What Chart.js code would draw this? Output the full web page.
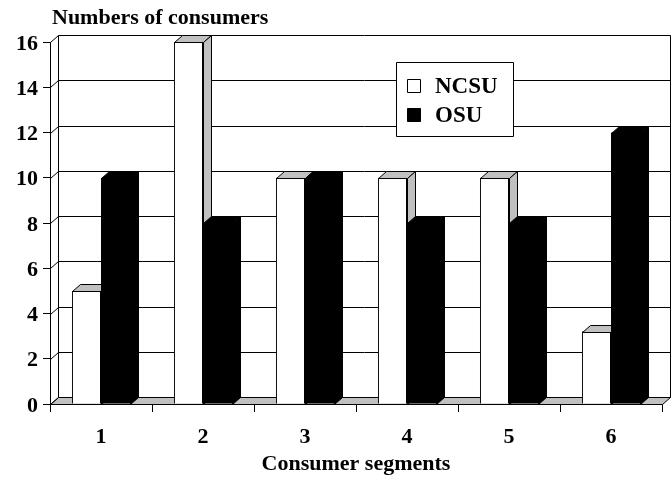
<!DOCTYPE html>
<html>
<head>
<meta charset="utf-8">
<script src="https://cdn.jsdelivr.net/npm/chart.js@4.4.1/dist/chart.umd.min.js"></script>
<style>
  html, body { margin: 0; padding: 0; background: #fff; }
  canvas { display: block; }
</style>
</head>
<body>
<canvas id="chart" width="671" height="478"></canvas>
<script>
// Consumer segment counts per university
const segments = ['1', '2', '3', '4', '5', '6'];
const ncsuCounts = [5, 16, 10, 10, 10, 3.2];
const osuCounts = [10, 8, 10, 8, 8, 12];
const yTickValues = [0, 2, 4, 6, 8, 10, 12, 14, 16];
const yAxisTitle = 'Numbers of consumers';
const xAxisTitle = 'Consumer segments';

const SERIF = "'Liberation Serif', 'Times New Roman', serif";
const DEPTH_X = 8;   // horizontal depth offset of the 3D box
const DEPTH_Y = 7;   // vertical depth offset of the 3D box
const crisp = v => Math.round(v) + 0.5;

function poly(ctx, pts, fill, stroke) {
  ctx.beginPath();
  ctx.moveTo(pts[0][0], pts[0][1]);
  for (let i = 1; i < pts.length; i++) ctx.lineTo(pts[i][0], pts[i][1]);
  ctx.closePath();
  if (fill) { ctx.fillStyle = fill; ctx.fill(); }
  if (stroke) { ctx.strokeStyle = stroke; ctx.stroke(); }
}

// White page background
const background = {
  id: 'background',
  beforeDraw(chart) {
    const { ctx, width, height } = chart;
    ctx.save();
    ctx.fillStyle = '#fff';
    ctx.fillRect(0, 0, width, height);
    ctx.restore();
  }
};

// Floor, side wall and back-wall gridlines, plus bar tops and sides
const depthBox = {
  id: 'depthBox',
  beforeDatasetsDraw(chart) {
    const { ctx, chartArea: a, scales: { y } } = chart;
    ctx.save();
    ctx.lineWidth = 1;
    const L = crisp(a.left), R = crisp(a.right), B = crisp(a.bottom), T = crisp(a.top);
    // floor
    poly(ctx, [[L, B], [R, B], [R + DEPTH_X, B - DEPTH_Y], [L + DEPTH_X, B - DEPTH_Y]], '#c0c0c0', '#000');
    // gridlines on the side wall and back wall
    ctx.strokeStyle = '#000';
    for (const t of y.ticks) {
      const py = crisp(y.getPixelForValue(t.value));
      ctx.beginPath();
      ctx.moveTo(L, py);
      ctx.lineTo(L + DEPTH_X, py - DEPTH_Y);
      ctx.lineTo(R + DEPTH_X, py - DEPTH_Y);
      ctx.stroke();
    }
    // back wall edges
    ctx.beginPath();
    ctx.moveTo(L + DEPTH_X, T - DEPTH_Y);
    ctx.lineTo(L + DEPTH_X, B - DEPTH_Y);
    ctx.moveTo(R + DEPTH_X, T - DEPTH_Y);
    ctx.lineTo(R + DEPTH_X, B - DEPTH_Y);
    ctx.stroke();
    ctx.restore();
  },
  // Repaint each cluster left to right so every bar's side face sits behind the next bar
  afterDatasetsDraw(chart) {
    const { ctx, chartArea } = chart;
    const metas = chart.data.datasets.map((_, i) => chart.getDatasetMeta(i));
    ctx.save();
    ctx.lineWidth = 1;
    for (let c = 0; c < chart.data.labels.length; c++) {
      metas.forEach((meta, d) => {
        const ds = chart.data.datasets[d];
        const el = meta.data[c];
        if (!el) return;
        el.draw(ctx, chartArea);
        const p = el.getProps(['x', 'y', 'base', 'width'], true);
        const left = crisp(p.x - p.width / 2), right = crisp(p.x + p.width / 2);
        const top = crisp(p.y), base = crisp(p.base);
        ctx.lineWidth = 1;
        // top face
        poly(ctx, [[left, top], [left + DEPTH_X, top - DEPTH_Y], [right + DEPTH_X, top - DEPTH_Y], [right, top]], ds.depthColor, '#000');
        // right side face
        poly(ctx, [[right, top], [right + DEPTH_X, top - DEPTH_Y], [right + DEPTH_X, base - DEPTH_Y], [right, base]], ds.depthColor, '#000');
      });
    }
    ctx.restore();
  }
};

// Axis title above the value axis and the boxed legend
const annotations = {
  id: 'annotations',
  afterDraw(chart) {
    const { ctx } = chart;
    ctx.save();
    ctx.fillStyle = '#000';
    ctx.font = 'bold 22px ' + SERIF;
    ctx.textAlign = 'left';
    ctx.textBaseline = 'alphabetic';
    ctx.fillText(yAxisTitle, 52, 24);

    // legend box
    ctx.lineWidth = 1;
    poly(ctx, [[396.5, 62.5], [513.5, 62.5], [513.5, 136.5], [396.5, 136.5]], '#fff', '#000');
    chart.data.datasets.forEach((ds, i) => {
      const cy = 86 + i * 29;
      poly(ctx, [[407.5, cy - 6.5], [420.5, cy - 6.5], [420.5, cy + 6.5], [407.5, cy + 6.5]], ds.backgroundColor, '#000');
      ctx.fillStyle = '#000';
      ctx.font = 'bold 23px ' + SERIF;
      ctx.textBaseline = 'middle';
      ctx.fillText(ds.label, 435, cy + 1);
    });
    ctx.restore();
  }
};

new Chart(document.getElementById('chart'), {
  type: 'bar',
  data: {
    labels: segments,
    datasets: [
      { label: 'NCSU', data: ncsuCounts, backgroundColor: '#fff', borderColor: '#000', borderWidth: 1, depthColor: '#c0c0c0' },
      { label: 'OSU', data: osuCounts, backgroundColor: '#000', borderColor: '#000', borderWidth: 1, depthColor: '#000' }
    ]
  },
  options: {
    responsive: false,
    animation: false,
    events: [],
    layout: { padding: { top: 42, right: 9, left: 0, bottom: 0 } },
    datasets: { bar: { categoryPercentage: 0.57, barPercentage: 1.0 } },
    plugins: { legend: { display: false }, tooltip: { enabled: false }, title: { display: false } },
    scales: {
      x: {
        offset: true,
        grid: { display: true, offset: true, drawOnChartArea: false, drawTicks: true, tickLength: 8, color: '#000', lineWidth: 1 },
        border: { display: true, color: '#000', width: 1 },
        ticks: { color: '#000', font: { family: SERIF, size: 22, weight: 'bold' }, padding: 12, maxRotation: 0 },
        title: { display: true, text: xAxisTitle, color: '#000', font: { family: SERIF, size: 22, weight: 'bold' }, padding: { top: 0, bottom: 0 } },
        afterFit(s) { s.height = 74; }
      },
      y: {
        min: 0,
        max: 16,
        afterBuildTicks(s) { s.ticks = yTickValues.map(v => ({ value: v })); },
        grid: { display: true, drawOnChartArea: false, drawTicks: true, tickLength: 7, color: '#000', lineWidth: 1 },
        border: { display: true, color: '#000', width: 1 },
        ticks: { color: '#000', font: { family: SERIF, size: 22, weight: 'bold' }, padding: 5, labelOffset: 2 },
        afterFit(s) { s.width = 50; }
      }
    }
  },
  plugins: [background, depthBox, annotations]
});
</script>
</body>
</html>
